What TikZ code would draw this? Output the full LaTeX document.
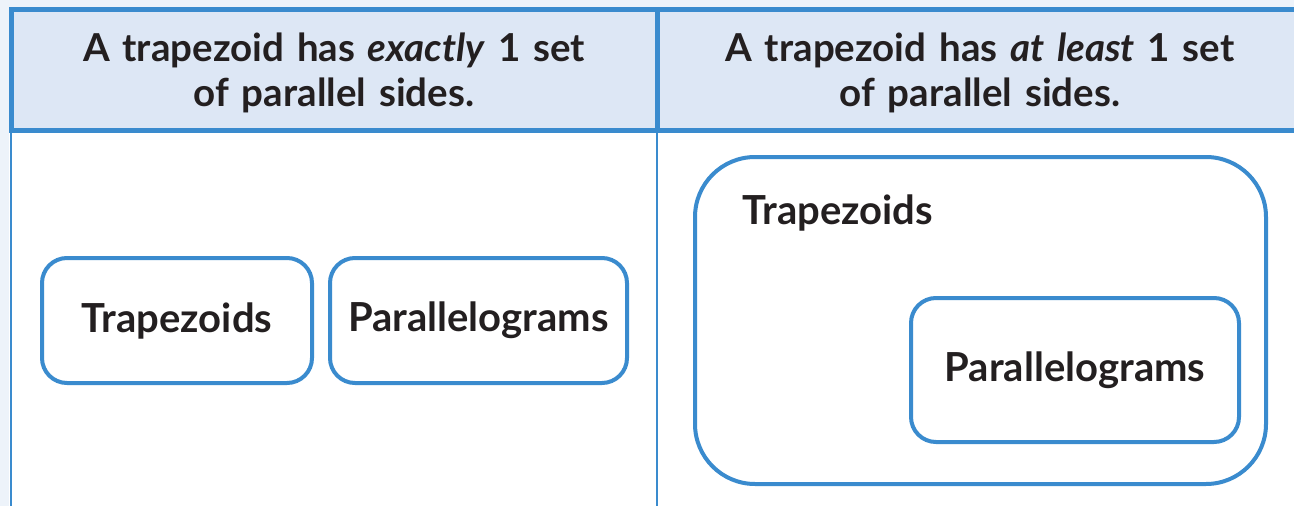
\documentclass[tikz,border=0pt]{standalone}
\usepackage{fontspec}
\setmainfont{Lato}
\usepackage{tikz}
\usetikzlibrary{positioning}
\definecolor{line_blue}{RGB}{58,139,206}
\definecolor{head_blue}{RGB}{221,231,245}
\definecolor{pale_blue}{RGB}{237,243,250}
\definecolor{ink}{RGB}{35,31,32}

\begin{document}
\begin{tikzpicture}[x=1pt,y=-1pt,
	headcell/.style={text width=600pt,align=center,text=ink,font=\fontsize{38.5}{45}\selectfont\bfseries},
	setbox/.style={draw=line_blue,line width=4pt,rounded corners=25pt,text=ink,font=\fontsize{40}{46}\selectfont\bfseries}]
	\useasboundingbox (0,0) rectangle (1294,506);
	% pale margin round the table
	\fill[pale_blue] (0,0) rectangle (1294,7);
	\fill[pale_blue] (0,0) rectangle (9,506);
	\fill[white] (9,7) rectangle (1294,506);
	% header row
	\draw[line_blue,fill=head_blue,line width=5pt] (11.5,9.5) rectangle (1300,130.5);
	\draw[line_blue,line width=5pt] (657,9.5) -- (657,130.5);
	\draw[line_blue,line width=2pt] (10.5,133) -- (10.5,506);
	\draw[line_blue,line width=2pt] (657,133) -- (657,506);
	\node[headcell] (exact) at (334,73) {A trapezoid has \textit{exactly} 1 set\\of parallel sides.};
	\node[headcell] (least) at (980,73) {A trapezoid has \textit{at least} 1 set\\of parallel sides.};
	% left column: two separate sets
	\node[setbox,minimum width=270pt,minimum height=125pt] (trapL) at (177,320.5) {Trapezoids};
	\node[setbox,minimum width=297pt,minimum height=125pt] (paraL) at (478.5,320.5) {Parallelograms};
	% right column: one set inside the other
	\node[setbox,rounded corners=60pt,minimum width=571pt,minimum height=327pt] (trapR) at (980.5,320.5) {};
	\node[text=ink,font=\fontsize{40}{46}\selectfont\bfseries,anchor=west] (trapRlabel) at (739,213) {Trapezoids};
	\node[setbox,minimum width=328pt,minimum height=144pt] (paraR) at (1075,370) {Parallelograms};
\end{tikzpicture}
\end{document}
